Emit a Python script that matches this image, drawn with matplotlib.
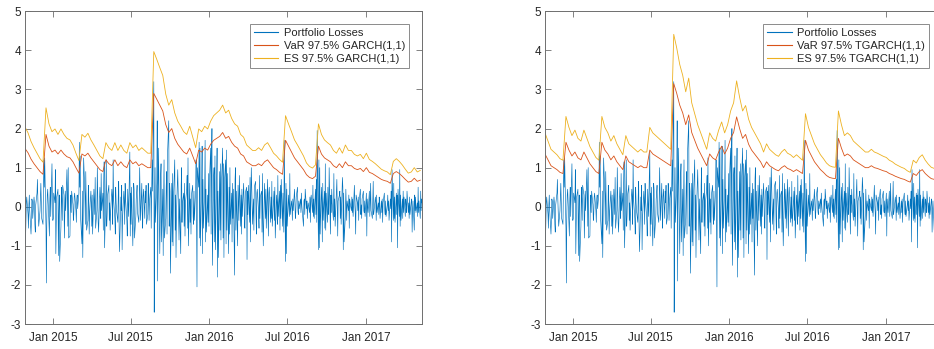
import matplotlib
matplotlib.use("Agg")
import matplotlib.pyplot as plt
import matplotlib.dates as mdates
import pandas as pd

plt.rcParams['font.family'] = ['Liberation Sans', 'DejaVu Sans']
plt.rcParams['axes.unicode_minus'] = False

# Daily portfolio losses (business days from 27 Oct 2014)
losses = [
    # Oct 2014
    0.55, -0.95, -0.40, 0.10, 0.25,
    # Nov 2014
    -0.20, -0.55, 0.05, 0.30, -0.10, -0.70, -0.35, 0.20, 0.15, -0.30,
    0.25, 0.10, -0.45, -0.65, 0.05, 0.35, 0.70, 0.20, -0.15, -0.50,
    # Dec 2014
    -0.10, 0.25, 0.60, 0.15, -0.30, -0.45, 0.35, 1.20, 0.50, 1.25,
    -0.55, -1.95, -0.20, 0.30, 0.45, -0.40, -0.75, 0.20, 0.50, -0.25,
    1.10, 0.15, -0.35,
    # Jan 2015
    -0.30, 0.35, 0.10, 0.95, -1.20, -0.40, 0.25, 0.45, -1.25, -0.20,
    0.30, -1.40, -0.50, 0.50, 0.20, -0.35, 0.55, 0.30, -0.80, -0.25,
    0.40, -0.10,
    # Feb 2015
    0.95, 0.20, -0.50, 1.00, -0.80, -0.75, 0.10, 0.30, -0.15, 0.40,
    0.05, -0.35, -0.20, 0.25, 0.35, -0.10, -0.40, 0.20, 0.30, -0.05,
    # Mar 2015
    0.35, 1.65, 0.50, 1.30, -0.30, -0.95, 0.40, -1.30, -0.20, 1.25,
    0.30, -0.45, 0.90, 0.10, -0.60, -0.35, 0.55, 0.20, -0.70, -0.15,
    0.40, 0.10,
    # Apr 2015
    -0.50, 0.30, -0.70, 0.45, 0.15, -0.20, 0.75, -0.55, -0.10, 1.00,
    0.25, -0.40, -0.65, 0.50, 0.20, -0.30, 0.85, -0.10, 0.35, -0.60,
    0.60, 1.15,
    # May 2015
    -1.05, 0.40, 1.20, -0.50, -0.20, 0.30, 0.55, -0.35, 0.10, -0.60,
    -0.15, 0.45, 0.25, -0.45, 1.20, 0.20, -0.30, -0.70, 0.50, 0.10,
    -0.10,
    # Jun 2015
    -0.40, 0.30, 0.65, -0.55, -1.15, 0.25, -0.10, 0.55, -1.10, -0.30,
    0.40, 0.15, -0.45, 0.60, 0.20, -0.35, -0.75, 0.45, 0.10, -0.25,
    1.40, -0.75,
    # Jul 2015
    0.35, -0.45, 0.50, -1.00, -0.30, 0.60, 0.45, -0.80, -0.25, 0.20,
    0.35, 0.55, -0.15, -0.40, 0.15, 1.00, 0.30, -0.35, 0.60, -0.20,
    -0.55, 0.25, 0.45,
    # Aug 2015
    -0.30, 0.40, 0.10, 0.55, -0.45, -0.20, 0.60, 0.25, -0.35, 0.15,
    0.50, -0.55, 0.35, 1.20, 0.40, 3.20, -2.70, -0.50, 1.00, -0.40,
    0.60,
    # Sep 2015
    2.20, -1.90, 0.30, 1.50, -1.20, -0.40, 0.80, 1.10, -0.90, 0.45,
    -1.25, 0.20, 1.20, -0.80, -0.30, 0.50, 0.90, -0.70, 1.30, 2.20,
    -0.50, 0.60,
    # Oct 2015
    0.40, -1.70, 0.60, -0.90, 0.85, -1.00, 0.20, 1.20, -0.60, 0.30,
    -1.30, -0.20, 0.95, 0.40, -0.30, -0.85, 0.20, -1.20, 0.55, 1.00,
    -0.40, 0.10,
    # Nov 2015
    0.35, -0.50, 0.60, -0.75, 0.10, 0.45, 0.80, -0.55, 1.25, -1.00,
    0.60, -0.40, 0.20, -0.70, 0.30, 0.55, -0.25, -0.45, 0.40, -0.35,
    0.50,
    # Dec 2015
    1.20, -0.60, -2.05, 1.00, 0.50, 1.65, -0.80, 1.50, -1.00, 0.60,
    1.55, -1.20, 0.70, -0.55, 0.40, 1.70, -0.90, 0.45, -0.65, 0.30,
    -0.40, 0.85, -0.50,
    # Jan 2016
    0.60, 1.50, -0.70, 1.20, 2.00, -1.50, 0.80, 1.00, -0.90, 1.30,
    -1.10, 0.70, 1.50, -1.80, 0.40, -1.30, 0.90, -0.60, 1.10, -0.85,
    0.50,
    # Feb 2016
    1.50, -0.80, 1.10, -1.30, 0.60, 1.20, -0.95, 1.45, -0.60, 0.85,
    -1.20, 0.50, -0.70, 1.00, -0.45, 0.35, -0.90, 0.60, -0.30, 0.45,
    -1.75,
    # Mar 2016
    0.70, 1.00, -0.60, 0.40, -1.00, 0.55, 0.10, -0.35, 0.80, -0.50,
    0.30, -0.70, 0.45, -0.25, 0.60, 0.20, -0.45, -0.55, 0.35, 0.50,
    -1.35, 0.40, -0.20,
    # Apr 2016
    0.55, -0.40, 0.75, -0.90, 0.30, 1.00, -0.45, -0.10, 0.20, -0.60,
    0.50, 0.65, -0.25, -0.70, 0.35, 0.45, -0.15, -0.55, 0.80, -0.30,
    0.25,
    # May 2016
    0.40, -0.65, 0.85, -0.35, -1.00, 0.60, 0.20, -0.30, 0.45, -0.55,
    0.70, -0.20, -0.75, 0.35, 0.50, -0.40, 0.25, -0.30, 0.65, -0.50,
    0.15, 0.40,
    # Jun 2016
    -0.35, 0.50, -0.80, 0.30, 0.10, -0.45, 0.80, -0.25, 0.40, -0.60,
    0.55, -0.30, 0.70, -0.50, 0.35, -0.20, -0.65, 1.70, -1.40, 0.60,
    -1.20, 0.45,
    # Jul 2016
    -0.50, 0.30, 0.05, -0.25, 0.85, -0.20, 0.15, 0.00, -0.35, 0.20,
    -0.10, 0.45, 0.10, -0.30, -0.15, 0.25, 0.50, -0.10, -0.20, 0.15,
    -0.05,
    # Aug 2016
    0.20, -0.15, 0.35, 0.05, -0.10, -0.50, 0.15, 0.20, -0.20, 0.45,
    -0.05, 0.15, -0.30, 0.00, 0.10, -0.15, 0.25, -0.40, 0.20, 0.30,
    -0.15, 0.55, -0.25,
    # Sep 2016
    0.20, -0.30, 0.45, -0.20, 0.70, -0.40, 1.95, -1.10, 1.20, -1.05,
    1.00, -0.70, 0.50, 0.10, -0.90, 0.60, -0.35, 0.40, -0.55, 1.10,
    -0.60, 0.35,
    # Oct 2016
    -0.40, 0.50, 0.05, -0.20, 1.00, -0.70, 0.30, -0.15, 0.45, 0.10,
    -0.35, 0.85, -0.25, 0.20, -0.50, 0.35, 0.70, -0.10, -0.75, 0.15,
    0.30,
    # Nov 2016
    0.40, -0.30, 0.25, -0.45, 0.75, 0.50, -1.10, 0.35, -0.90, -0.20,
    0.45, 0.05, -0.35, 0.15, -0.10, 0.30, -0.55, 0.20, 0.10, -0.10,
    0.25, -0.15,
    # Dec 2016
    0.20, -0.25, 0.55, 0.05, -0.15, -0.70, 0.30, 0.10, -0.10, 0.25,
    -0.35, 0.15, 0.45, -0.20, 0.05, -0.30, 0.20, 0.40, -0.10, -0.15,
    0.15, -0.25,
    # Jan 2017
    0.35, -0.75, 0.20, 0.00, -0.15, 0.40, -0.25, 0.10, 0.60, -0.10,
    -0.30, 0.15, 0.65, -0.20, -0.10, 0.25, 0.10, -0.35, 0.30, -0.15,
    0.10, -0.20,
    # Feb 2017
    0.25, 0.05, -0.30, 0.15, -0.15, 0.20, -0.40, 0.10, 0.35, -0.10,
    -0.20, 0.15, -0.25, 0.05, 0.30, -0.10, 0.15, -0.35, 0.20, -0.05,
    # Mar 2017
    0.40, -0.90, 0.95, -0.35, 0.60, -0.30, 0.25, -0.40, 0.35, -0.20,
    0.30, -1.05, 0.45, -0.25, 0.95, -0.50, 0.30, -0.35, 0.20, -0.30,
    0.40, -0.15, 0.25,
    # Apr 2017
    -0.25, 0.20, 0.05, -0.15, 0.40, -0.15, 0.10, -0.30, 0.25, -0.20,
    0.15, 0.20, -0.65, -0.10, 0.15, -0.60, 0.30, -0.10, 0.25, -0.15,
    # May 2017
    0.10, -0.25, 0.50, -0.15, 0.15, -0.30, 0.40, -0.10, 0.20, 0.10,
]

# Weekly VaR / ES estimates (97.5%), Mondays from 27 Oct 2014
var_garch = [
    1.49, 1.38, 1.22, 1.10, 1.00, 0.90, 0.83, 1.85, 1.55, 1.40,
    1.45, 1.35, 1.45, 1.35, 1.28, 1.25, 1.15, 1.00, 0.86, 1.35,
    1.30, 1.37, 1.25, 1.15, 1.05, 0.95, 0.90, 1.20, 1.10, 1.05,
    1.20, 1.05, 1.15, 1.05, 1.00, 1.20, 1.10, 1.15, 1.05, 1.10,
    1.05, 1.00, 1.00, 2.90, 2.75, 2.60, 2.45, 2.10, 1.90, 2.00,
    1.75, 1.60, 1.50, 1.40, 1.35, 1.50, 1.30, 1.10, 1.45, 1.40,
    1.50, 1.45, 1.60, 1.70, 1.75, 1.80, 1.90, 1.75, 1.80, 1.65,
    1.55, 1.50, 1.35, 1.30, 1.15, 1.10, 1.05, 1.05, 1.10, 1.05,
    1.15, 1.20, 1.10, 1.00, 0.95, 0.88, 0.83, 1.70, 1.55, 1.40,
    1.25, 1.15, 1.05, 0.95, 0.82, 0.75, 0.72, 0.78, 1.55, 1.35,
    1.25, 1.20, 1.15, 1.05, 1.00, 1.10, 1.00, 1.15, 1.05, 1.05,
    0.98, 0.95, 0.98, 0.90, 1.00, 0.88, 0.85, 0.80, 0.75, 0.70,
    0.67, 0.65, 0.60, 0.85, 0.90, 0.85, 0.78, 0.70, 0.63, 0.65,
    0.73, 0.65, 0.68,
]
es_garch = [
    2.04, 1.89, 1.67, 1.51, 1.37, 1.23, 1.14, 2.53, 2.12, 1.92,
    1.99, 1.85, 1.99, 1.85, 1.75, 1.71, 1.58, 1.37, 1.18, 1.85,
    1.78, 1.88, 1.71, 1.58, 1.44, 1.30, 1.23, 1.64, 1.51, 1.44,
    1.64, 1.44, 1.58, 1.44, 1.37, 1.64, 1.51, 1.58, 1.44, 1.51,
    1.44, 1.37, 1.37, 3.97, 3.77, 3.56, 3.36, 2.88, 2.60, 2.74,
    2.40, 2.19, 2.06, 1.92, 1.85, 2.06, 1.78, 1.51, 1.99, 1.92,
    2.06, 1.99, 2.19, 2.33, 2.40, 2.47, 2.60, 2.40, 2.47, 2.26,
    2.12, 2.06, 1.85, 1.78, 1.58, 1.51, 1.44, 1.44, 1.51, 1.44,
    1.58, 1.64, 1.51, 1.37, 1.30, 1.21, 1.14, 2.33, 2.12, 1.92,
    1.71, 1.58, 1.44, 1.30, 1.12, 1.03, 0.99, 1.07, 2.12, 1.85,
    1.71, 1.64, 1.58, 1.44, 1.37, 1.51, 1.37, 1.58, 1.44, 1.44,
    1.34, 1.30, 1.34, 1.23, 1.37, 1.21, 1.16, 1.10, 1.03, 0.96,
    0.92, 0.89, 0.82, 1.16, 1.23, 1.16, 1.07, 0.96, 0.86, 0.89,
    1.00, 0.89, 0.93,
]
var_tgarch = [
    1.35, 1.20, 1.05, 1.00, 0.95, 0.88, 0.85, 1.65, 1.45, 1.30,
    1.40, 1.25, 1.20, 1.40, 1.25, 1.10, 1.00, 0.90, 0.85, 1.65,
    1.45, 1.35, 1.20, 1.30, 1.15, 1.05, 0.95, 1.30, 1.15, 1.10,
    1.05, 1.00, 1.05, 1.00, 1.00, 1.45, 1.35, 1.30, 1.25, 1.20,
    1.15, 1.10, 1.05, 3.15, 2.90, 2.60, 2.40, 2.10, 2.35, 1.90,
    1.70, 1.50, 1.35, 1.20, 1.05, 1.35, 1.25, 1.20, 1.40, 1.55,
    1.35, 1.50, 1.75, 1.90, 2.30, 2.00, 1.75, 1.85, 1.60, 1.45,
    1.35, 1.25, 1.15, 1.00, 1.15, 1.05, 1.00, 0.95, 0.92, 1.00,
    1.05, 0.98, 0.95, 0.90, 0.95, 0.90, 0.85, 1.70, 1.45, 1.30,
    1.15, 1.05, 0.95, 0.88, 0.80, 0.75, 0.73, 0.72, 1.75, 1.50,
    1.30, 1.35, 1.30, 1.20, 1.15, 1.10, 1.05, 1.00, 1.00, 1.05,
    1.00, 0.98, 0.95, 0.92, 0.90, 0.85, 0.82, 0.78, 0.75, 0.72,
    0.70, 0.66, 0.63, 0.85, 0.80, 0.90, 0.95, 0.85, 0.78, 0.72,
    0.70, 0.70, 0.68,
]
es_tgarch = [
    1.89, 1.68, 1.47, 1.40, 1.33, 1.23, 1.19, 2.31, 2.03, 1.82,
    1.96, 1.75, 1.68, 1.96, 1.75, 1.54, 1.40, 1.26, 1.19, 2.31,
    2.03, 1.89, 1.68, 1.82, 1.61, 1.47, 1.33, 1.82, 1.61, 1.54,
    1.47, 1.40, 1.47, 1.40, 1.40, 2.03, 1.89, 1.82, 1.75, 1.68,
    1.61, 1.54, 1.47, 4.41, 4.06, 3.64, 3.36, 2.94, 3.29, 2.66,
    2.38, 2.10, 1.89, 1.68, 1.47, 1.89, 1.75, 1.68, 1.96, 2.17,
    1.89, 2.10, 2.45, 2.66, 3.22, 2.80, 2.45, 2.59, 2.24, 2.03,
    1.89, 1.75, 1.61, 1.40, 1.61, 1.47, 1.40, 1.33, 1.29, 1.40,
    1.47, 1.37, 1.33, 1.26, 1.33, 1.26, 1.19, 2.38, 2.03, 1.82,
    1.61, 1.47, 1.33, 1.23, 1.12, 1.05, 1.02, 1.01, 2.45, 2.10,
    1.82, 1.89, 1.82, 1.68, 1.61, 1.54, 1.47, 1.40, 1.40, 1.47,
    1.40, 1.37, 1.33, 1.29, 1.26, 1.19, 1.15, 1.09, 1.05, 1.01,
    0.98, 0.92, 0.88, 1.19, 1.12, 1.26, 1.33, 1.19, 1.09, 1.01,
    0.98, 0.98, 0.95,
]

tick_dates = ['2015-01-01', '2015-07-01', '2016-01-01', '2016-07-01', '2017-01-01']
y_ticks = [-3, -2, -1, 0, 1, 2, 3, 4, 5]

days = pd.bdate_range('2014-10-27', periods=len(losses))
weeks = pd.date_range('2014-10-27', periods=len(var_garch), freq='7D')

BLUE, RED, YELLOW = '#0072BD', '#D95319', '#EDB120'
TXT = '#262626'
FRAME = '#6e6e6e'

fig = plt.figure(figsize=(9.34, 3.49), dpi=100)
axes = [fig.add_axes([0.0268, 0.0716, 0.425, 0.896]),
        fig.add_axes([0.5835, 0.0716, 0.425, 0.896])]

panels = [
    (var_garch, es_garch, 'GARCH(1,1)'),
    (var_tgarch, es_tgarch, 'TGARCH(1,1)'),
]

for ax, (var, es, model) in zip(axes, panels):
    ax.plot(days, losses, color=BLUE, lw=0.45, label='Portfolio Losses')
    ax.plot(weeks, var, color=RED, lw=0.6, label=f'VaR 97.5% {model}')
    ax.plot(weeks, es, color=YELLOW, lw=0.6, label=f'ES 97.5% {model}')

    ax.set_xlim(days[0], pd.Timestamp('2017-05-12'))
    ax.set_ylim(-3, 5)
    ax.set_yticks(y_ticks)
    ax.set_xticks(pd.to_datetime(tick_dates))
    ax.xaxis.set_major_formatter(mdates.DateFormatter('%b %Y'))
    ax.tick_params(direction='in', top=True, right=True, length=4,
                   width=0.6, color=FRAME, labelcolor=TXT, labelsize=8.5,
                   pad=3)
    ax.tick_params(axis='x', pad=6)
    for sp in ax.spines.values():
        sp.set_color(FRAME)
        sp.set_linewidth(0.7)

    leg = ax.legend(loc='upper right', bbox_to_anchor=(0.967, 0.960),
                    borderaxespad=0, fontsize=8, frameon=True, fancybox=False,
                    handlelength=2.2, handletextpad=0.5, labelspacing=0.3,
                    borderpad=0.35)
    leg.get_frame().set_edgecolor(FRAME)
    leg.get_frame().set_linewidth(0.7)
    for t in leg.get_texts():
        t.set_color(TXT)
    for h in leg.get_lines():
        h.set_linewidth(0.8)

fig.savefig('out.png', dpi=100)
